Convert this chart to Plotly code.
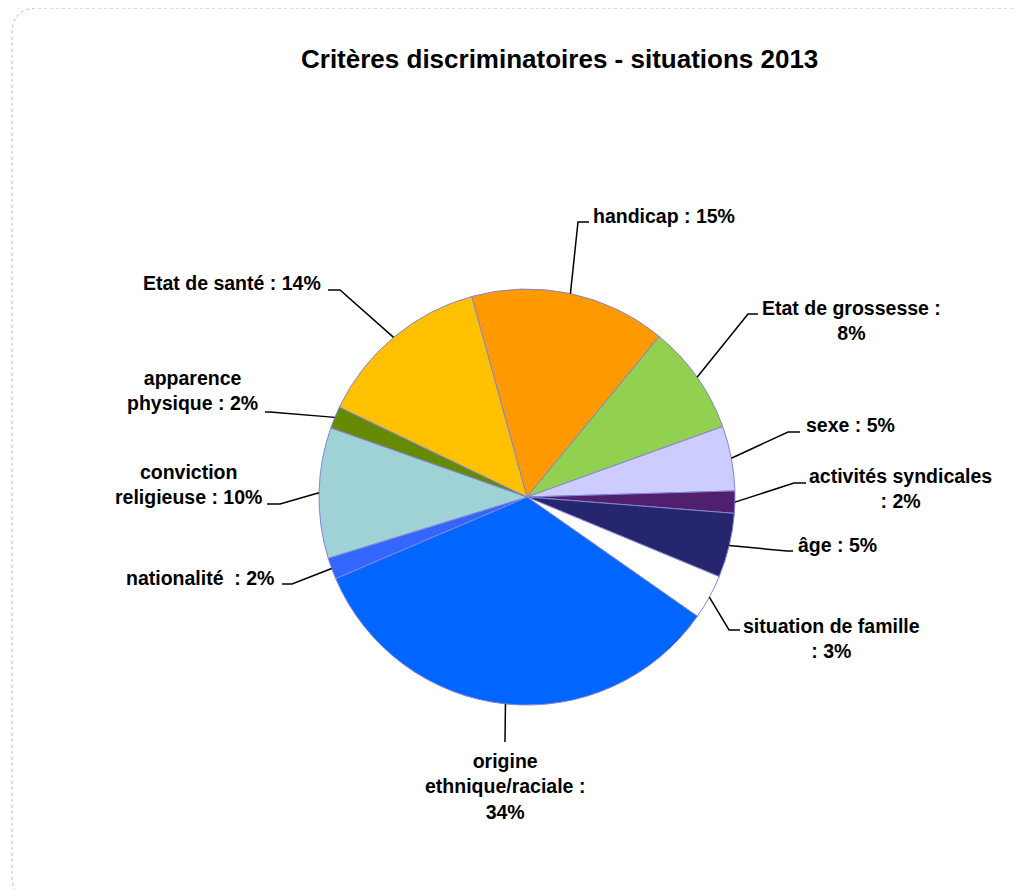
import math
import plotly.graph_objects as go

W, H = 1021, 890
OFF = 8  # page body margin offset of the rendered figure

# ---------------- data ----------------
categories = ["handicap", "Etat de grossesse", "sexe", "activités syndicales", "âge",
              "situation de famille", "origine ethnique/raciale", "nationalité",
              "conviction religieuse", "apparence physique", "Etat de santé"]
shares = [15.25, 8.53, 5.03, 1.72, 5.0, 3.47, 33.86, 1.67, 10.14, 1.72, 13.61]
label_texts = ["handicap : 15%", "Etat de grossesse :<br>8%", "sexe : 5%",
               "activités syndicales<br>: 2%", "âge : 5%", "situation de famille<br>: 3%",
               "origine<br>ethnique/raciale :<br>34%", "nationalité\u00a0 : 2%",
               "conviction<br>religieuse : 10%", "apparence<br>physique : 2%",
               "Etat de santé : 14%"]
title_text = "Critères discriminatoires - situations 2013"

# ---------------- styles / layout ----------------
colors = ["#FF9900", "#92D050", "#CCCCFF", "#50206E", "#26266E", "#FFFFFF",
          "#0066FF", "#3366FF", "#9FD2D6", "#678A05", "#FFC000"]
rotation = -15.4
cx, cy, R = 527, 497, 208  # pie centre and radius in pixels

# leader-line elbow, end point, and text anchor (pixels) for each label
label_layout = [
    ((578, 222), (589, 222), (591, 216, "left")),
    ((748, 314), (758, 314), (851, 320, "center")),
    ((788, 432), (800, 432), (804, 425, "left")),
    ((794, 483), (806, 483), (900, 488, "center")),
    ((787, 551), (793, 551), (796, 545, "left")),
    ((729, 630), (740, 630), (831, 638, "center")),
    ((505, 742), (505, 742), (505, 786, "center")),
    ((292, 584), (282, 584), (276, 578, "right")),
    ((280, 504), (267, 504), (188, 484, "center")),
    ((270, 412), (265, 412), (192, 391, "center")),
    ((340, 290), (328, 290), (323, 283, "right")),
]

FONT = "Liberation Sans, Arial, sans-serif"


def px(x):
    return (x - OFF) / W


def py(y):
    return 1 - (y - OFF) / H


fig = go.Figure()
fig.add_trace(go.Pie(
    labels=categories,
    values=shares,
    sort=False,
    direction="clockwise",
    rotation=rotation,
    marker=dict(colors=colors, line=dict(color="#8484D6", width=1)),
    textinfo="none",
    hoverinfo="label+percent",
    showlegend=False,
    domain=dict(x=[px(cx - R), px(cx + R)], y=[py(cy + R), py(cy - R)]),
))

shapes = []
annotations = []
total = sum(shares)
acc = 0.0
for i, v in enumerate(shares):
    mid = math.radians(rotation + (acc + v / 2) / total * 360)
    acc += v
    sx = cx + R * math.sin(mid)
    sy = cy - R * math.cos(mid)
    (ex, ey), (fx, fy), (tx, ty, anchor) = label_layout[i]
    path = f"M {px(sx)},{py(sy)} L {px(ex)},{py(ey)} L {px(fx)},{py(fy)}"
    shapes.append(dict(type="path", xref="paper", yref="paper", path=path,
                       line=dict(color="black", width=1.5)))
    annotations.append(dict(
        x=px(tx), y=py(ty), xref="paper", yref="paper", text=f"<b>{label_texts[i]}</b>",
        showarrow=False, xanchor=anchor, yanchor="middle", align="center",
        font=dict(family=FONT, size=19.5, color="black"),
    ))

# title
annotations.append(dict(
    x=px(559), y=py(59), xref="paper", yref="paper", text=f"<b>{title_text}</b>",
    showarrow=False, xanchor="center", yanchor="middle",
    font=dict(family=FONT, size=26, color="black"),
))

# rounded dashed frame (partly off-canvas to the right/bottom)
x0, y0, x1, y1, rr = 12, 8, 1043, 902, 26
frame = (f"M {px(x0 + rr)},{py(y0)} L {px(x1 - rr)},{py(y0)} "
         f"Q {px(x1)},{py(y0)} {px(x1)},{py(y0 + rr)} L {px(x1)},{py(y1 - rr)} "
         f"Q {px(x1)},{py(y1)} {px(x1 - rr)},{py(y1)} L {px(x0 + rr)},{py(y1)} "
         f"Q {px(x0)},{py(y1)} {px(x0)},{py(y1 - rr)} L {px(x0)},{py(y0 + rr)} "
         f"Q {px(x0)},{py(y0)} {px(x0 + rr)},{py(y0)} Z")
shapes.append(dict(type="path", xref="paper", yref="paper", path=frame,
                   line=dict(color="#B8B8B8", width=1, dash="dot"), layer="below"))

fig.update_layout(
    width=W, height=H,
    margin=dict(l=0, r=0, t=0, b=0),
    paper_bgcolor="white", plot_bgcolor="white",
    shapes=shapes, annotations=annotations,
)

fig.write_html("out.html")
